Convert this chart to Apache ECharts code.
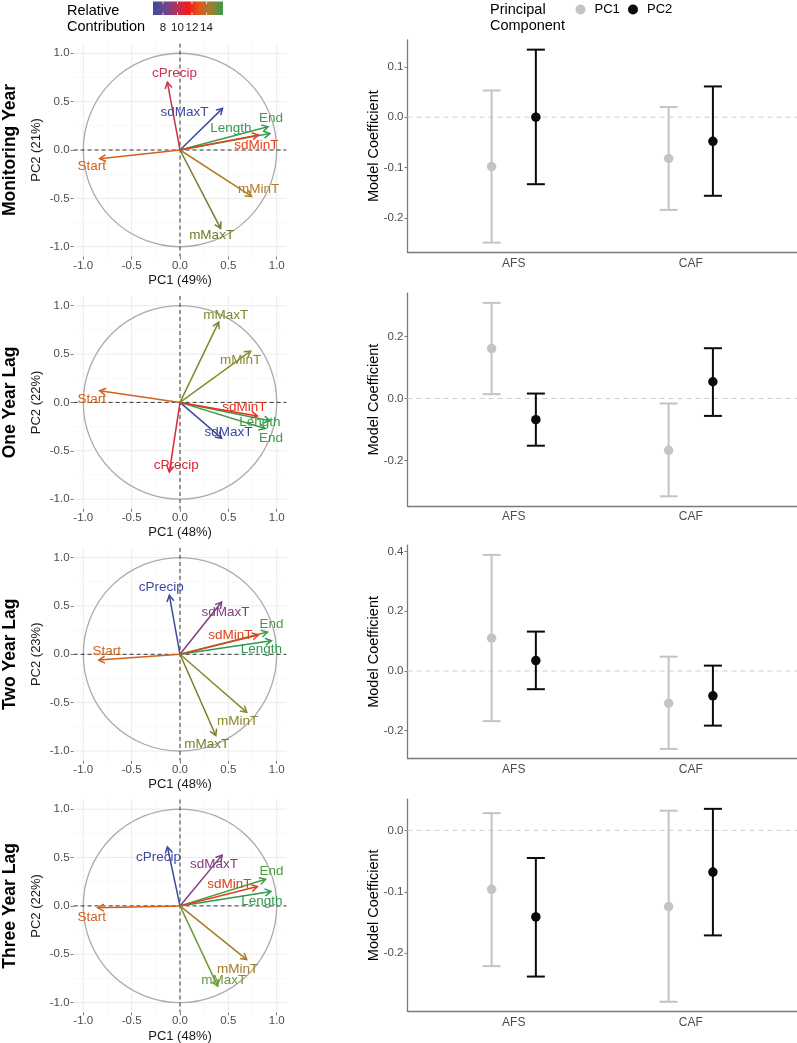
<!DOCTYPE html>
<html><head><meta charset="utf-8">
<script src="https://cdn.jsdelivr.net/npm/echarts@6/dist/echarts.min.js"></script>
<style>html,body{margin:0;padding:0;background:#fff}#c{width:797px;height:1043px}</style>
</head><body><div id="c"></div><script>
// ---------------- DATA ----------------
const rowTitles = ['Monitoring Year', 'One Year Lag', 'Two Year Lag', 'Three Year Lag'];
const pc1Variance = [49, 48, 48, 48];
const pc2Variance = [21, 22, 23, 22];
const variables = ['cPrecip', 'sdMaxT', 'End', 'Length', 'sdMinT', 'Start', 'mMinT', 'mMaxT'];
// variable loadings (PCA correlation circle), order as in `variables`
const monitoringPC1 = [-0.13, 0.44, 0.91, 0.93, 0.81, -0.83, 0.74, 0.42];
const monitoringPC2 = [0.70, 0.43, 0.24, 0.17, 0.155, -0.09, -0.48, -0.81];
const lag1PC1 = [-0.11, 0.43, 0.88, 0.93, 0.80, -0.83, 0.73, 0.40];
const lag1PC2 = [-0.72, -0.37, -0.27, -0.19, -0.14, 0.12, 0.53, 0.83];
const lag2PC1 = [-0.11, 0.43, 0.905, 0.945, 0.81, -0.84, 0.69, 0.37];
const lag2PC2 = [0.61, 0.54, 0.23, 0.14, 0.20, -0.06, -0.60, -0.84];
const lag3PC1 = [-0.13, 0.435, 0.885, 0.94, 0.80, -0.85, 0.69, 0.39];
const lag3PC2 = [0.61, 0.525, 0.275, 0.15, 0.20, -0.02, -0.555, -0.83];
const pcaTicks = [-1, -0.5, 0, 0.5, 1];
const pcaMinorTicks = [-0.75, -0.25, 0.25, 0.75];
const colorbarTicks = [8, 10, 12, 14];

const categories = ['AFS', 'CAF'];
const components = ['PC1', 'PC2'];
// model coefficients per row: [AFS, CAF]
const pc1Estimate = [[-0.098, -0.082], [0.161, -0.167], [0.110, -0.108], [-0.096, -0.124]];
const pc1Lower    = [[-0.249, -0.184], [0.014, -0.315], [-0.168, -0.261], [-0.221, -0.279]];
const pc1Upper    = [[0.053, 0.020], [0.308, -0.016], [0.389, 0.048], [0.028, 0.032]];
const pc2Estimate = [[0.000, -0.048], [-0.068, 0.054], [0.035, -0.083], [-0.141, -0.068]];
const pc2Lower    = [[-0.133, -0.156], [-0.152, -0.056], [-0.061, -0.183], [-0.238, -0.171]];
const pc2Upper    = [[0.134, 0.061], [0.016, 0.162], [0.132, 0.018], [-0.045, 0.035]];
const coefTicks = [[-0.2, -0.1, 0, 0.1], [-0.2, 0, 0.2], [-0.2, 0, 0.2, 0.4], [-0.2, -0.1, 0]];

// ---------------- STYLE / LAYOUT ----------------
const FONT = '"Liberation Sans", Arial, sans-serif';
const loadX = [monitoringPC1, lag1PC1, lag2PC1, lag3PC1];
const loadY = [monitoringPC2, lag1PC2, lag2PC2, lag3PC2];
const arrowColors = [
  ['#C8344F', '#3E4A9E', '#3E9B48', '#2F9A4F', '#E8401C', '#D4601C', '#B07C28', '#6E7E2A'],
  ['#D8283A', '#3C4A9E', '#3E9B48', '#3A9A48', '#E8301A', '#D4601C', '#8C8A2A', '#7A8A2C'],
  ['#3C4A9E', '#7E3E7E', '#4E9A40', '#2E9A4E', '#E0401A', '#D4601C', '#8C8A2A', '#7A7E2C'],
  ['#3C4A9E', '#7E3E7E', '#4E9A40', '#2E9A4E', '#E0401A', '#D4601C', '#A47C28', '#6A9A3A']
];
const labelNudge = [
  [[7, -9], [-38, 4], [3, -9], [-39, -5], [-2, 10], [-8, 8], [7, -7], [-9, 7]],
  [[7, -7], [7, -6], [6, 10], [-10, 2], [-13, -9], [-8, 8], [-10, 9], [7, -7]],
  [[-8, -8], [4, 10], [4, -8], [-10, 9], [-28, 0], [8, -9], [-9, 9], [-9, 9]],
  [[-9, 10], [-8, 9], [6, -8], [-9, 10], [-28, -2], [-6, 9], [-9, 10], [6, -6]]
];
const leftX = 73.6, leftSize = 212.8;
const leftTop = [43.6, 296, 547.9, 799.5];
const rightX = 407.5;
const rightTop = [40, 293.2, 545.2, 799.2];
const rightBottom = [252.3, 506, 758.6, 1011.4];
const compColors = ['#C4C4C4', '#0A0A0A'];
const dodge = [-0.125, 0.125];

const grid = [], xAxis = [], yAxis = [], series = [], graphic = [];
const tickLabelStyle = { color: '#4d4d4d', fontSize: 11.5, fontFamily: FONT };

for (let r = 0; r < 4; r++) {
  const gL = 2 * r, gR = 2 * r + 1;
  // ----- PCA panel -----
  grid.push({ left: leftX, top: leftTop[r], width: leftSize, height: leftSize });
  const pcaAxis = (extra) => Object.assign({
    gridIndex: gL, type: 'value', min: -1.1, max: 1.1,
    axisLine: { show: false, onZero: false },
    splitLine: { show: false },
    axisTick: { show: true, customValues: pcaTicks, length: 3, lineStyle: { color: '#777', width: 1 } },
    axisLabel: Object.assign({ customValues: pcaTicks, formatter: v => v.toFixed(1) }, tickLabelStyle)
  }, extra);
  xAxis.push(pcaAxis({ axisLabel: Object.assign({ customValues: pcaTicks, formatter: v => v.toFixed(1), margin: 3 }, tickLabelStyle) }));
  yAxis.push(pcaAxis({ axisLabel: Object.assign({ customValues: pcaTicks, formatter: v => v.toFixed(1), margin: 4 }, tickLabelStyle) }));

  // grid lines
  series.push({
    type: 'custom', xAxisIndex: gL, yAxisIndex: gL, z: 1, silent: true,
    data: pcaTicks.map(v => [v, 1]).concat(pcaMinorTicks.map(v => [v, 0])),
    encode: { x: 0, y: 1 },
    renderItem: (params, api) => {
      const cs = params.coordSys, v = api.value(0), major = api.value(1) === 1;
      const p = api.coord([v, v]);
      const st = { stroke: major ? '#ebebeb' : '#f5f5f5', lineWidth: major ? 1 : 0.7 };
      return { type: 'group', children: [
        { type: 'line', shape: { x1: p[0], y1: cs.y, x2: p[0], y2: cs.y + cs.height }, style: st },
        { type: 'line', shape: { x1: cs.x, y1: p[1], x2: cs.x + cs.width, y2: p[1] }, style: st }
      ] };
    }
  });
  // unit circle + dashed reference lines
  series.push({
    type: 'custom', xAxisIndex: gL, yAxisIndex: gL, z: 2, silent: true,
    data: [[0, 0]], encode: { x: 0, y: 1 },
    renderItem: (params, api) => {
      const cs = params.coordSys;
      const c = api.coord([0, 0]);
      const rad = api.size([1, 1])[0];
      return { type: 'group', children: [
        { type: 'circle', shape: { cx: c[0], cy: c[1], r: rad }, style: { stroke: '#ababab', lineWidth: 1.3, fill: 'none' } },
        { type: 'line', shape: { x1: c[0], y1: cs.y, x2: c[0], y2: cs.y + cs.height }, style: { stroke: '#222', lineWidth: 0.9, lineDash: [4, 3] } },
        { type: 'line', shape: { x1: cs.x, y1: c[1], x2: cs.x + cs.width, y2: c[1] }, style: { stroke: '#222', lineWidth: 0.9, lineDash: [4, 3] } }
      ] };
    }
  });
  // arrows
  series.push({
    type: 'custom', xAxisIndex: gL, yAxisIndex: gL, z: 4, silent: true,
    data: variables.map((v, i) => [loadX[r][i], loadY[r][i]]),
    encode: { x: 0, y: 1 },
    renderItem: (params, api) => {
      const i = params.dataIndex;
      const o = api.coord([0, 0]);
      const t = api.coord([api.value(0), api.value(1)]);
      const ang = Math.atan2(t[1] - o[1], t[0] - o[0]);
      const L = 7, a = Math.PI / 6;
      const p1 = [t[0] - L * Math.cos(ang - a), t[1] - L * Math.sin(ang - a)];
      const p2 = [t[0] - L * Math.cos(ang + a), t[1] - L * Math.sin(ang + a)];
      const col = arrowColors[r][i];
      const nud = labelNudge[r][i];
      return { type: 'group', children: [
        { type: 'line', shape: { x1: o[0], y1: o[1], x2: t[0], y2: t[1] }, style: { stroke: col, lineWidth: 1.5 } },
        { type: 'polyline', shape: { points: [p1, t, p2] }, style: { stroke: col, lineWidth: 1.5, fill: 'none' } },
        { type: 'text', x: t[0] + nud[0], y: t[1] + nud[1], z2: 10,
          style: { text: variables[i], fill: col, fontSize: 13.5, fontFamily: FONT, align: 'center', verticalAlign: 'middle' } }
      ] };
    }
  });

  // ----- coefficient panel -----
  const lows = pc1Lower[r].concat(pc2Lower[r]), highs = pc1Upper[r].concat(pc2Upper[r]);
  const lo = Math.min(...lows), hi = Math.max(...highs), pad = 0.05 * (hi - lo);
  grid.push({ left: rightX, top: rightTop[r], width: 797 - rightX, height: rightBottom[r] - rightTop[r] });
  xAxis.push({
    gridIndex: gR, type: 'value', min: 0.4, max: 2.6,
    axisLine: { show: true, onZero: false, lineStyle: { color: '#7a7a7a', width: 1.3 } },
    splitLine: { show: false },
    axisTick: { show: false, customValues: [1, 2] },
    axisLabel: Object.assign({ customValues: [1, 2], formatter: v => categories[Math.round(v) - 1], margin: 5, fontSize: 12 }, { color: '#4d4d4d', fontFamily: FONT })
  });
  yAxis.push({
    gridIndex: gR, type: 'value', min: lo - pad, max: hi + pad,
    axisLine: { show: true, onZero: false, lineStyle: { color: '#7a7a7a', width: 1.3 } },
    splitLine: { show: false },
    axisTick: { show: true, customValues: coefTicks[r], length: 3, lineStyle: { color: '#7a7a7a' } },
    axisLabel: Object.assign({ customValues: coefTicks[r], formatter: v => v.toFixed(1), margin: 4 }, tickLabelStyle)
  });
  // zero line
  series.push({
    type: 'custom', xAxisIndex: gR, yAxisIndex: gR, z: 1, silent: true,
    data: [[1, 0]], encode: { x: 0, y: 1 },
    renderItem: (params, api) => {
      const cs = params.coordSys, p = api.coord([1, 0]);
      return { type: 'line', shape: { x1: cs.x, y1: p[1], x2: cs.x + cs.width, y2: p[1] },
        style: { stroke: '#cfcfcf', lineWidth: 1, lineDash: [5, 4] } };
    }
  });
  const est = [pc1Estimate[r], pc2Estimate[r]], lower = [pc1Lower[r], pc2Lower[r]], upper = [pc1Upper[r], pc2Upper[r]];
  for (let c = 0; c < 2; c++) {
    series.push({
      type: 'custom', name: components[c], xAxisIndex: gR, yAxisIndex: gR, z: 3, silent: true,
      data: categories.map((k, j) => [j + 1 + dodge[c], lower[c][j], upper[c][j]]),
      encode: { x: 0, y: [1, 2] },
      renderItem: (params, api) => {
        const x = api.value(0);
        const a = api.coord([x, api.value(1)]), b = api.coord([x, api.value(2)]);
        const w = 9, st = { stroke: compColors[c], lineWidth: 2 };
        return { type: 'group', children: [
          { type: 'line', shape: { x1: a[0], y1: a[1], x2: b[0], y2: b[1] }, style: st },
          { type: 'line', shape: { x1: a[0] - w, y1: a[1], x2: a[0] + w, y2: a[1] }, style: st },
          { type: 'line', shape: { x1: b[0] - w, y1: b[1], x2: b[0] + w, y2: b[1] }, style: st }
        ] };
      }
    });
    series.push({
      type: 'scatter', name: components[c], xAxisIndex: gR, yAxisIndex: gR, z: 4, silent: true,
      symbol: 'circle', symbolSize: 9.5,
      itemStyle: { color: compColors[c], opacity: 1 },
      data: categories.map((k, j) => [j + 1 + dodge[c], est[c][j]])
    });
  }

  // ----- text titles -----
  const midL = leftTop[r] + leftSize / 2;
  const midR = (rightTop[r] + rightBottom[r]) / 2;
  graphic.push({ type: 'text', x: 10, y: midL, rotation: Math.PI / 2,
    style: { text: rowTitles[r], fill: '#000', fontSize: 17.5, fontWeight: 'bold', fontFamily: FONT, align: 'center', verticalAlign: 'middle' } });
  graphic.push({ type: 'text', x: 36, y: midL, rotation: Math.PI / 2,
    style: { text: 'PC2 (' + pc2Variance[r] + '%)', fill: '#1a1a1a', fontSize: 13, fontFamily: FONT, align: 'center', verticalAlign: 'middle' } });
  graphic.push({ type: 'text', x: leftX + leftSize / 2, y: leftTop[r] + leftSize + 24,
    style: { text: 'PC1 (' + pc1Variance[r] + '%)', fill: '#1a1a1a', fontSize: 13, fontFamily: FONT, align: 'center', verticalAlign: 'middle' } });
  graphic.push({ type: 'text', x: 374, y: midR, rotation: Math.PI / 2,
    style: { text: 'Model Coefficient', fill: '#000', fontSize: 14.5, fontFamily: FONT, align: 'center', verticalAlign: 'middle' } });
}

// ----- legends -----
graphic.push({ type: 'text', x: 67, y: 11, style: { text: 'Relative', fill: '#000', fontSize: 14.5, fontFamily: FONT, align: 'left', verticalAlign: 'middle' } });
graphic.push({ type: 'text', x: 67, y: 27, style: { text: 'Contribution', fill: '#000', fontSize: 14.5, fontFamily: FONT, align: 'left', verticalAlign: 'middle' } });
graphic.push({ type: 'rect', shape: { x: 153, y: 1.5, width: 70, height: 13.5 },
  style: { fill: new echarts.graphic.LinearGradient(0, 0, 1, 0, [
    { offset: 0, color: '#3F4A9E' }, { offset: 0.22, color: '#7C4283' }, { offset: 0.4, color: '#D02A45' },
    { offset: 0.5, color: '#F01A1A' }, { offset: 0.66, color: '#E0561E' }, { offset: 0.82, color: '#A07E2C' },
    { offset: 1, color: '#3A9A4A' }]) } });
const cbX = v => 163 + (v - 8) * 7.25;
colorbarTicks.forEach(v => {
  graphic.push({ type: 'line', shape: { x1: cbX(v), y1: 1.5, x2: cbX(v), y2: 4 }, style: { stroke: '#fff', lineWidth: 0.8 } });
  graphic.push({ type: 'line', shape: { x1: cbX(v), y1: 12.5, x2: cbX(v), y2: 15 }, style: { stroke: '#fff', lineWidth: 0.8 } });
  graphic.push({ type: 'text', x: cbX(v), y: 28, style: { text: String(v), fill: '#1a1a1a', fontSize: 11.5, fontFamily: FONT, align: 'center', verticalAlign: 'middle' } });
});
graphic.push({ type: 'text', x: 490, y: 9.5, style: { text: 'Principal', fill: '#000', fontSize: 14.5, fontFamily: FONT, align: 'left', verticalAlign: 'middle' } });
graphic.push({ type: 'text', x: 490, y: 26, style: { text: 'Component', fill: '#000', fontSize: 14.5, fontFamily: FONT, align: 'left', verticalAlign: 'middle' } });
[[580.5, 0], [633, 1]].forEach(([x, c]) => {
  graphic.push({ type: 'circle', shape: { cx: x, cy: 9.5, r: 5 }, style: { fill: compColors[c] } });
  graphic.push({ type: 'text', x: x + 14, y: 9.5, style: { text: components[c], fill: '#000', fontSize: 13, fontFamily: FONT, align: 'left', verticalAlign: 'middle' } });
});

const chart = echarts.init(document.getElementById('c'), null, { renderer: 'canvas' });
chart.setOption({
  animation: false,
  backgroundColor: '#ffffff',
  textStyle: { fontFamily: FONT },
  grid, xAxis, yAxis, series, graphic
});
</script></body></html>
